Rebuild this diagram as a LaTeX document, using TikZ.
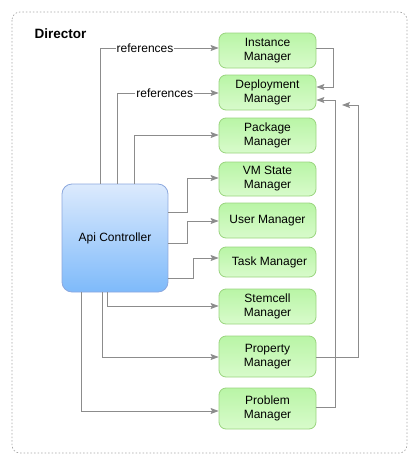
\documentclass[tikz,border=0pt]{standalone}
\usepackage{fontspec}
\setmainfont{Liberation Sans}
\usetikzlibrary{arrows.meta}
\definecolor{grnA}{HTML}{B9F5A6}
\definecolor{grnB}{HTML}{D8FBCB}
\definecolor{grnD}{HTML}{9AD47F}
\definecolor{bluA}{HTML}{DCEAFD}
\definecolor{bluB}{HTML}{7EBAFA}
\definecolor{bluD}{HTML}{8CA8DE}
\definecolor{lineC}{HTML}{8C8C8C}
\definecolor{frameC}{HTML}{A8A8A8}
\tikzset{
  mgr/.style={draw=grnD, line width=0.8pt, rounded corners=7pt, top color=grnA, bottom color=grnB,
    minimum width=97pt, align=center, font=\fontsize{12}{14}\selectfont, inner sep=0pt},
  api/.style={draw=bluD, line width=0.8pt, rounded corners=10pt, top color=bluA, bottom color=bluB,
    minimum width=106pt, minimum height=108pt, align=center, font=\fontsize{12}{14}\selectfont},
  conn/.style={draw=lineC, line width=0.9pt, -{Stealth[length=8pt,width=6pt,inset=1.5pt]}},
  plain/.style={draw=lineC, line width=0.9pt},
  lbl/.style={fill=white, inner sep=1pt, font=\fontsize{12}{14}\selectfont}
}
\begin{document}
\begin{tikzpicture}[x=1pt,y=-1pt]
\useasboundingbox (0,0) rectangle (418,464);
\draw[frameC, dash pattern=on 1.5pt off 2pt, rounded corners=8pt, line width=0.7pt] (12,12) rectangle (407,453);
\node[anchor=west, font=\bfseries\fontsize{13.5}{15}\selectfont] (dir) at (31,34) {Director};

\node[mgr, minimum height=35pt] (inst) at (267.5,50.5) {Instance\\Manager};
\node[mgr, minimum height=35pt] (dep) at (267.5,92.5) {Deployment\\Manager};
\node[mgr, minimum height=35pt] (pkg) at (267.5,135.5) {Package\\Manager};
\node[mgr, minimum height=34pt] (vms) at (267.5,179) {VM State\\Manager};
\node[mgr, minimum height=35pt] (usr) at (267.5,220.5) {User Manager};
\node[mgr, minimum height=30pt] (tsk) at (267.5,262) {\hspace{4pt}Task Manager};
\node[mgr, minimum height=35pt] (stc) at (267.5,306.5) {Stemcell\\Manager};
\node[mgr, minimum height=41pt] (prp) at (267.5,356.5) {Property\\Manager};
\node[mgr, minimum height=41pt] (prb) at (267.5,408.5) {Problem\\Manager};

\node[api] (apic) at (115,238) {Api Controller};

% top connectors
\draw[conn] (apic.north -| 100,0) |- (inst.west |- 0,48) node[lbl, pos=0.69] {references};
\draw[conn] (apic.north -| 117,0) |- (dep.west |- 0,93) node[lbl, pos=0.735] {references};
\draw[conn] (apic.north -| 134,0) |- (pkg.west |- 0,135);
% right side of api
\draw[conn] (apic.east |- 0,212) -| (187,178) -- (vms.west |- 0,178);
\draw[conn] (apic.east |- 0,243) -| (187,221) -- (usr.west |- 0,221);
\draw[conn] (apic.east |- 0,278) -| (193,258) -- (tsk.west |- 0,258);
% bottom connectors
\draw[conn] (apic.south -| 107,0) |- (stc.west |- 0,306);
\draw[conn] (apic.south -| 102,0) |- (prp.west |- 0,357);
\draw[conn] (apic.south -| 81,0) |- (prb.west |- 0,411);
% right side connectors into deployment
\draw[conn] (inst.east |- 0,48) -| (333,87) -- (dep.east |- 0,87);
\draw[conn] (prb.east |- 0,407) -| (335,100) -- (dep.east |- 0,100);
\coordinate (freeend) at (342,105);
\draw[conn] (prp.east |- 0,357) -| (358,105) -- (freeend);
\end{tikzpicture}
\end{document}
